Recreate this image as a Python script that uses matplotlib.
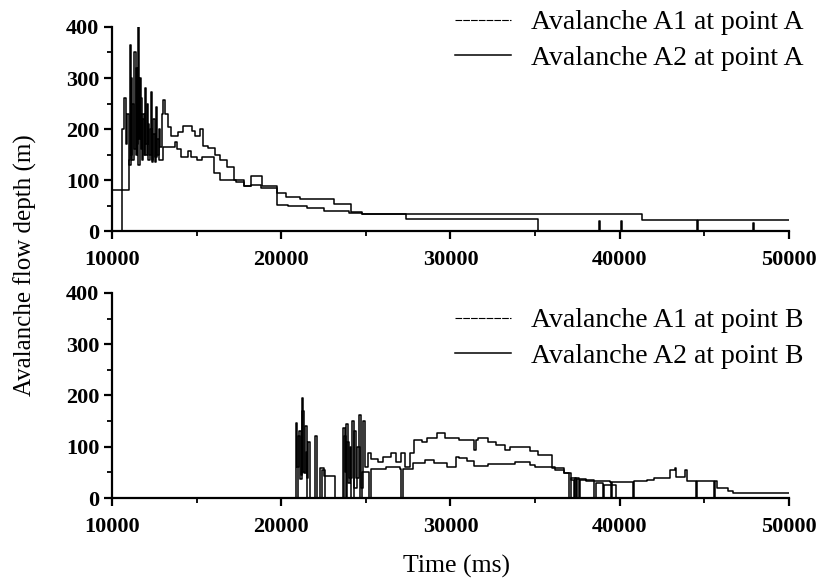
import matplotlib
matplotlib.use("Agg")
import matplotlib.pyplot as plt
from matplotlib.ticker import MultipleLocator

plt.rcParams["font.family"] = ["Liberation Serif", "DejaVu Serif"]

# ---- data (time in ms, depth in m) ----
a1_pointA_t = [10000, 10600, 10700, 10800, 10900, 11000, 11100, 11200, 11300, 11400,
               11480, 11550, 11650, 11750, 11850, 11950, 12050, 12150, 12250, 12350,
               12450, 12550, 12650, 12800, 13000, 13750, 13850, 14100, 14500, 14650,
               15000, 15300, 16000, 16400, 17300, 17800, 18200, 18800, 19750, 20400,
               21500, 22500, 24000, 24800, 27400, 35150, 38750, 38850, 40050, 40150,
               47850, 47950, 50000]
a1_pointA_d = [0, 200, 260, 170, 230, 130, 300, 140, 350, 150,
               210, 130, 260, 140, 220, 150, 250, 140, 200, 135,
               220, 145, 180, 140, 165, 174, 161, 146, 157, 146,
               139, 146, 113, 100, 96, 88, 90, 85, 51, 49,
               45, 40, 35, 33, 23, 0, 20, 0, 20, 0,
               15, 0, 0]

a2_pointA_t = [10000, 11000, 11050, 11100, 11200, 11300, 11400, 11450, 11520, 11580,
               11650, 11720, 11800, 11880, 11930, 12000, 12100, 12200, 12290, 12350,
               12450, 12520, 12580, 12650, 12750, 12850, 12950, 13020, 13150, 13330,
               13500, 13900, 14200, 14700, 14900, 15200, 15400, 15700, 16100, 16400,
               16800, 17200, 17800, 18200, 18850, 19750, 20300, 21100, 23100, 24100,
               24800, 41300, 44550, 44650, 50000]
a2_pointA_d = [80, 140, 365, 150, 250, 160, 320, 170, 400, 180,
               300, 160, 230, 150, 280, 170, 210, 150, 273, 140,
               190, 135, 244, 150, 200, 165, 230, 257, 230, 204,
               186, 195, 206, 196, 186, 200, 167, 163, 150, 139,
               126, 100, 89, 107, 88, 74, 67, 63, 53, 38,
               33, 21, 0, 21, 21]

a1_pointB_t = [10000, 20870, 20950, 21050, 21150, 21200, 21300, 21400, 21500, 21600,
               21700, 22000, 22100, 22300, 22500, 23200, 23650, 23750, 23850, 23950,
               24050, 24150, 24300, 24400, 24600, 24700, 24850, 24950, 25100, 25300,
               25700, 26000, 26500, 26800, 27100, 27300, 27600, 27850, 28300, 28600,
               29200, 29700, 30500, 31400, 31500, 31600, 32200, 32700, 33200, 33500,
               34700, 35200, 36000, 36700, 37100, 37300, 37350, 37600, 37650, 38000,
               39400, 39500, 39550, 40800, 40850, 41600, 42000, 43000, 43260, 43350,
               43850, 43950, 44500, 44550, 45600, 45650, 45750, 46400, 46700, 50000]
a1_pointB_d = [0, 147, 60, 130, 45, 195, 50, 140, 40, 110,
               0, 120, 0, 58, 42, 0, 137, 50, 144, 30,
               100, 0, 130, 40, 162, 20, 150, 60, 88, 76,
               70, 80, 88, 70, 88, 60, 88, 113, 110, 117,
               127, 117, 113, 94, 113, 117, 110, 103, 94, 100,
               92, 84, 59, 49, 35, 0, 40, 0, 35, 33,
               31, 0, 31, 0, 33, 35, 39, 54, 58, 41,
               54, 33, 0, 33, 0, 33, 19, 13, 10, 10]

a2_pointB_t = [10000, 21000, 21100, 21250, 21350, 21450, 21550, 22400, 22600, 23700,
               23800, 23900, 24000, 24200, 24300, 24500, 24650, 24800, 25200, 25300,
               26200, 27000, 27100, 27200, 27800, 28500, 29000, 29800, 30300, 30500,
               31000, 31400, 32200, 33800, 34700, 35000, 36200, 36700, 37000, 37100,
               37400, 37500, 38000, 38500, 38600, 39000, 39100, 39800, 50000]
a2_pointB_d = [0, 120, 37, 170, 49, 90, 0, 55, 0, 120,
               0, 110, 40, 150, 20, 100, 0, 50, 0, 57,
               60, 57, 0, 57, 68, 74, 68, 60, 80, 78,
               72, 62, 66, 70, 64, 60, 55, 49, 0, 40,
               0, 38, 36, 0, 30, 0, 25, 0, 0]

x_ticks = [10000, 20000, 30000, 40000, 50000]
y_ticks = [0, 100, 200, 300, 400]

fig = plt.figure(figsize=(8.27, 5.78), dpi=100)
ax_top = fig.add_axes([0.1354, 0.6003, 0.8186, 0.353])
ax_bot = fig.add_axes([0.1354, 0.1384, 0.8186, 0.3547])

panels = [
    (ax_top, a1_pointA_t, a1_pointA_d, a2_pointA_t, a2_pointA_d, "A", 1 - 10 / 578),
    (ax_bot, a1_pointB_t, a1_pointB_d, a2_pointB_t, a2_pointB_d, "B", 1 - 308 / 578),
]

for ax, t1, d1, t2, d2, pt, ytop in panels:
    l1, = ax.plot(t1, d1, drawstyle="steps-post", color="black", lw=1.1,
                  label="Avalanche A1 at point " + pt)
    l2, = ax.plot(t2, d2, drawstyle="steps-post", color="black", lw=1.1,
                  label="Avalanche A2 at point " + pt)
    ax.set_xlim(10000, 50000)
    ax.set_ylim(0, 400)
    ax.set_xticks(x_ticks)
    ax.set_yticks(y_ticks)
    ax.xaxis.set_minor_locator(MultipleLocator(5000))
    ax.yaxis.set_minor_locator(MultipleLocator(50))
    ax.spines["top"].set_visible(False)
    ax.spines["right"].set_visible(False)
    ax.spines["left"].set_linewidth(1.6)
    ax.spines["bottom"].set_linewidth(1.6)
    ax.tick_params(which="major", length=6, width=1.6, labelsize=16)
    ax.tick_params(axis="y", which="major", pad=3)
    ax.tick_params(axis="x", which="major", pad=7.5)
    ax.tick_params(which="minor", length=3.5, width=1.3)
    for lab in ax.get_xticklabels() + ax.get_yticklabels():
        lab.set_fontweight("bold")
    ax.patch.set_alpha(0)

    h1 = plt.Line2D([], [], color="black", lw=0.8, ls=(0, (6, 1)))
    h2 = plt.Line2D([], [], color="black", lw=1.1)
    ax.legend([h1, h2], [l1.get_label(), l2.get_label()],
              loc="upper left", bbox_to_anchor=(455 / 827, ytop),
              bbox_transform=fig.transFigure, frameon=False, fontsize=20,
              handlelength=2.0, handletextpad=0.75, labelspacing=0.36,
              borderpad=0, borderaxespad=0)

fig.text(25 / 827, 1 - 265 / 578, "Avalanche flow depth (m)", rotation=90,
         ha="center", va="center", fontsize=18)
fig.text(456 / 827, 1 - 566 / 578, "Time (ms)", ha="center", va="center",
         fontsize=18.5)

fig.savefig("out.png", dpi=100)
